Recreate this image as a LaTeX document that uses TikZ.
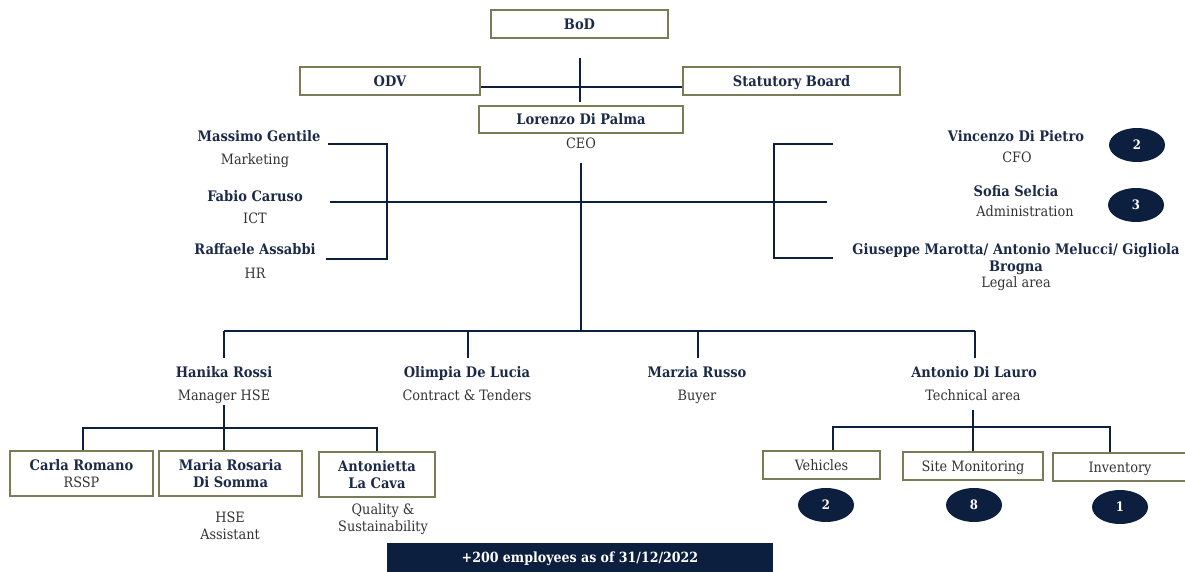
\documentclass[tikz,border=0pt]{standalone}
\usepackage{fontspec}
\setmainfont{DejaVu Serif Condensed}
\usetikzlibrary{shapes.geometric}
\definecolor{navy}{HTML}{0D1F3E}
\definecolor{boxc}{HTML}{7B7B55}
\definecolor{namec}{HTML}{1B2A48}
\definecolor{rolec}{HTML}{333333}
\tikzset{
  conn/.style={draw=navy, line width=1.8pt},
  box/.style={draw=boxc, line width=1.3pt, fill=white, inner sep=0pt, align=center},
  nmf/.style={font=\bfseries\fontsize{14.5}{17.5}\selectfont, text=namec, inner sep=1pt},
  rlf/.style={font=\fontsize{14.3}{17}\selectfont, text=rolec, inner sep=1pt},
  nm/.style={nmf, text height=10.5pt, text depth=0pt},
  rl/.style={rlf, text height=10.5pt, text depth=0pt},
  nmm/.style={nmf, align=center},
  rlm/.style={rlf, align=center},
  oval/.style={ellipse, fill=navy, minimum width=56pt, minimum height=34pt, inner sep=0pt, text=white, font=\bfseries\fontsize{13}{14}\selectfont},
}
\begin{document}
\begin{tikzpicture}[x=1pt,y=-1pt]
\useasboundingbox (0,0) rectangle (1185,572);
\clip (0,0) rectangle (1185,572);
% top boxes
\node[box, minimum width=177pt, minimum height=28pt, nm] (bod) at (579.5,24) {BoD};
\node[box, minimum width=180pt, minimum height=28pt, nm] (odv) at (390,81) {ODV};
\node[box, minimum width=217pt, minimum height=28pt, nm] (stat) at (791.5,81) {Statutory Board};
\node[box, minimum width=204pt, minimum height=27pt, nm] (ceo) at (581,119.5) {Lorenzo Di Palma};
\node[rl] (ceor) at (581,143) {CEO};
\coordinate (vt) at (580,58);
\coordinate (vb) at (580,102);
\coordinate (hj) at (580,87);
\draw[conn] (odv.east |- hj) -- (stat.west |- hj);
\draw[conn] (vt) -- (vb);
% CEO trunk
\coordinate (t1) at (581,163);
\coordinate (t2) at (581,332);
\draw[conn] (t1) -- (t2);
% left staff
\node[nm] (mg) at (259,136) {Massimo Gentile};
\node[rl] (mgr) at (255,159) {Marketing};
\node[nm] (fc) at (255,196) {Fabio Caruso};
\node[rl] (fcr) at (255,218) {ICT};
\node[nm] (ra) at (255,249) {Raffaele Assabbi};
\node[rl] (rar) at (255,273) {HR};
\coordinate (lbt) at (387,144);
\coordinate (lbb) at (387,259);
\coordinate (lt) at (328,144);
\coordinate (lb) at (326,259);
\coordinate (lm) at (330,202);
\coordinate (rm) at (827,202);
\draw[conn] (lt) -- (lbt) -- (lbb) -- (lb);
\draw[conn] (lm) -- (rm);
% right staff
\coordinate (rbt) at (774,144);
\coordinate (rbb) at (774,258);
\coordinate (rt) at (833,144);
\coordinate (rb) at (833,258);
\draw[conn] (rt) -- (rbt) -- (rbb) -- (rb);
\node[nm] (vd) at (1016,136) {Vincenzo Di Pietro};
\node[rl] (vdr) at (1017,157) {CFO};
\node[oval] (o1) at (1137,145) {2};
\node[nm] (ss) at (1016,191) {Sofia Selcia};
\node[rl] (ssr) at (1025,211) {Administration};
\node[oval] (o2) at (1136,205) {3};
\node[nm] (gm) at (1016,249) {Giuseppe Marotta/ Antonio Melucci/ Gigliola};
\node[nm] (gm2) at (1016,266) {Brogna};
\node[rl] (gmr) at (1016,282) {Legal area};
% second level
\coordinate (hl) at (224,331);
\coordinate (hr) at (975,331);
\draw[conn] (hl) -- (hr);
\node[nm] (hro) at (224,372) {Hanika Rossi};
\node[rl] (hror) at (224,395) {Manager HSE};
\node[nm] (old) at (467,372) {Olimpia De Lucia};
\node[rl] (oldr) at (467,395) {Contract \& Tenders};
\node[nm] (mr) at (697,372) {Marzia Russo};
\node[rl] (mrr) at (697,395) {Buyer};
\node[nm] (adl) at (974,372) {Antonio Di Lauro};
\node[rl] (adlr) at (973,395) {Technical area};
\coordinate (d1) at (224,358);
\coordinate (d2) at (468,358);
\coordinate (d3) at (698,358);
\coordinate (d4) at (975,358);
\draw[conn] (hl) -- (d1);
\draw[conn] (hl -| d2) -- (d2);
\draw[conn] (hl -| d3) -- (d3);
\draw[conn] (hr) -- (d4);
% HSE subtree
\node[box, minimum width=143pt, minimum height=45pt] (cr) at (81.5,473.5) {};
\node[nm] (crn) at (81.5,465) {Carla Romano};
\node[rl] (crr) at (81.5,482) {RSSP};
\node[box, minimum width=143pt, minimum height=45pt, nmm] (mrs) at (230.5,473.5) {Maria Rosaria\\Di Somma};
\node[box, minimum width=116pt, minimum height=45pt, nmm] (alc) at (377,474.5) {Antonietta\\La Cava};
\node[rlm] (mrsr) at (230,525.5) {HSE\\Assistant};
\node[rlm] (alcr) at (383,519.5) {Quality \&\\Sustainability};
\coordinate (h1) at (224,405);
\coordinate (hl2) at (83,428);
\coordinate (hr2) at (377,428);
\draw[conn] (h1) -- (mrs.north -| h1);
\draw[conn] (cr.north -| hl2) -- (hl2) -- (hr2) -- (alc.north -| hr2);
% Tech subtree
\node[box, minimum width=117pt, minimum height=28pt, rl] (veh) at (821.5,465) {Vehicles};
\node[box, minimum width=140pt, minimum height=28pt, rl] (sm) at (973,466) {Site Monitoring};
\node[box, minimum width=137pt, minimum height=28pt] (inv) at (1121.5,467) {};
\node[rl] (invt) at (1120,467) {Inventory};
\node[oval] (o3) at (826,505) {2};
\node[oval] (o4) at (974,505) {8};
\node[oval] (o5) at (1120,507) {1};
\coordinate (t3) at (973,410);
\coordinate (tl) at (833,427);
\coordinate (tr) at (1110,427);
\draw[conn] (t3) -- (sm.north -| t3);
\draw[conn] (veh.north -| tl) -- (tl) -- (tr) -- (inv.north -| tr);
% banner
\node[fill=navy, minimum width=386pt, minimum height=32pt, inner sep=0pt, anchor=north west] (ban) at (387,543) {};
\node[font=\bfseries\fontsize{14}{16}\selectfont, text=white] (bant) at (580,559) {+200 employees as of 31/12/2022};
\end{tikzpicture}
\end{document}
